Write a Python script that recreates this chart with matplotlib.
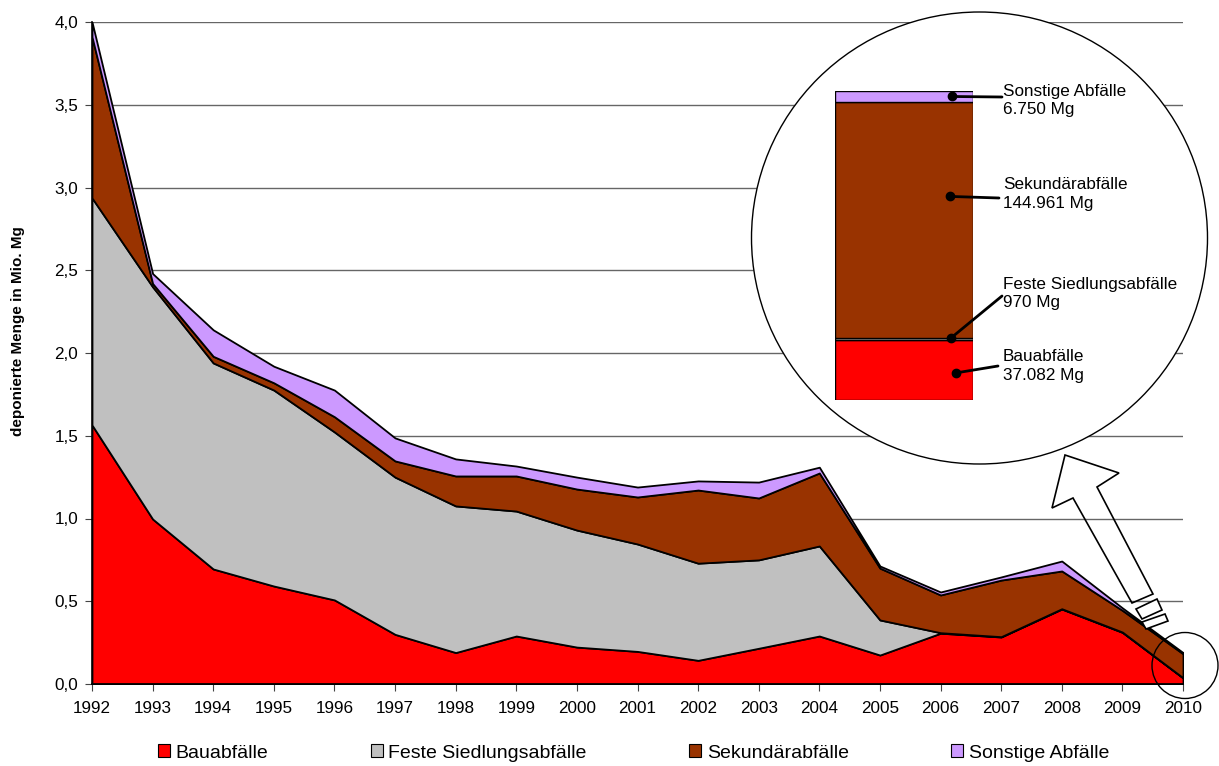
import matplotlib
matplotlib.use("Agg")
import matplotlib.pyplot as plt
from matplotlib.patches import Ellipse, Polygon, Patch

plt.rcParams['font.family'] = ['Liberation Sans', 'DejaVu Sans']

# ---------------- data ----------------
years = list(range(1992, 2011))
bauabfaelle = [1.565, 0.997, 0.695, 0.592, 0.508, 0.300, 0.190, 0.290, 0.223, 0.197,
               0.143, 0.216, 0.290, 0.175, 0.307, 0.284, 0.453, 0.312, 0.037]
feste_siedlung = [1.372, 1.403, 1.245, 1.184, 1.015, 0.950, 0.886, 0.755, 0.707, 0.649,
                  0.587, 0.534, 0.544, 0.212, 0.003, 0.002, 0.002, 0.002, 0.001]
sekundaer = [0.973, 0.020, 0.040, 0.044, 0.092, 0.098, 0.181, 0.212, 0.248, 0.284,
             0.442, 0.374, 0.441, 0.313, 0.228, 0.342, 0.228, 0.131, 0.145]
sonstige = [0.090, 0.060, 0.160, 0.100, 0.161, 0.139, 0.103, 0.060, 0.072, 0.060,
            0.055, 0.096, 0.035, 0.013, 0.018, 0.019, 0.060, 0.015, 0.007]

series_names = ["Bauabfälle", "Feste Siedlungsabfälle", "Sekundärabfälle", "Sonstige Abfälle"]
colors = ["#FF0000", "#C0C0C0", "#993300", "#CC99FF"]

# 2010 detail (Mg)
detail_values = [37082, 970, 144961, 6750]
detail_labels = ["Bauabfälle\n37.082 Mg", "Feste Siedlungsabfälle\n970 Mg",
                 "Sekundärabfälle\n144.961 Mg", "Sonstige Abfälle\n6.750 Mg"]

yticks = [0.0, 0.5, 1.0, 1.5, 2.0, 2.5, 3.0, 3.5, 4.0]
ytick_labels = ["0,0", "0,5", "1,0", "1,5", "2,0", "2,5", "3,0", "3,5", "4,0"]

# ---------------- figure ----------------
W, H = 1219, 766
fig = plt.figure(figsize=(W / 100, H / 100), dpi=100)
ax = fig.add_axes([92 / W, 1 - 684 / H, (1183 - 92) / W, (684 - 22) / H])

ax.stackplot(years, bauabfaelle, feste_siedlung, sekundaer, sonstige,
             colors=colors, edgecolor="black", linewidth=1.3)
ax.set_xlim(1992, 2010)
ax.set_ylim(0, 4.0)
ax.set_xticks(years)
ax.set_xticklabels([str(y) for y in years], fontsize=12.3)
ax.set_yticks(yticks)
ax.set_yticklabels(ytick_labels, fontsize=12.3)
ax.yaxis.grid(True, color="#666666", linewidth=1)
ax.set_axisbelow(True)
for s in ["top", "right"]:
    ax.spines[s].set_visible(False)
ax.spines["left"].set_linewidth(1.2)
ax.spines["bottom"].set_linewidth(1.2)
ax.tick_params(axis="both", direction="out", length=5, color="#444444", pad=5)
ax.tick_params(axis="x", pad=7)

fig.text(18 / W, 1 - 331 / H, "deponierte Menge in Mio. Mg", rotation=90,
         ha="center", va="center", fontsize=11, fontweight="bold")

# legend
handles = [Patch(facecolor=c, edgecolor="black", linewidth=0.8) for c in colors]
fig.legend(handles, series_names, loc="center", bbox_to_anchor=(633.5 / W, 1 - 753 / H),
           ncol=4, frameon=False, fontsize=14, handlelength=0.62, handleheight=0.62,
           handletextpad=0.3, columnspacing=5.25, borderaxespad=0, borderpad=0)

# big magnifier circle
fig.add_artist(Ellipse((979.5 / W, 1 - 238 / H), 2 * 228 / W, 2 * 226 / H,
                       transform=fig.transFigure, facecolor="white",
                       edgecolor="black", linewidth=1, zorder=2))
# small circle around 2010
fig.add_artist(Ellipse((1185 / W, 1 - 665.5 / H), 2 * 33 / W, 2 * 33 / H,
                       transform=fig.transFigure, facecolor="none",
                       edgecolor="black", linewidth=1, zorder=2))

def fp(pts):
    return [(x / W, 1 - y / H) for x, y in pts]

arrow = [(1065, 455), (1119, 473), (1097, 487), (1153, 594), (1132, 603),
         (1073, 498), (1052, 508)]
fig.add_artist(Polygon(fp(arrow), closed=True, transform=fig.transFigure,
                       facecolor="none", edgecolor="black", linewidth=1.2, zorder=2))
rect1 = [(1136, 609), (1157, 599), (1162, 610), (1142, 619)]
rect2 = [(1142, 622), (1165, 614), (1168, 621), (1146, 629)]
for r in (rect1, rect2):
    fig.add_artist(Polygon(fp(r), closed=True, transform=fig.transFigure,
                           facecolor="white", edgecolor="black", linewidth=1.2, zorder=2))

# inset stacked bar for 2010
total = sum(detail_values)
ax_in = fig.add_axes([835 / W, 1 - 400 / H, (973 - 835) / W, (400 - 91) / H])
ax_in.set_zorder(3)
bottom = 0
bottoms = []
for v, c in zip(detail_values, colors):
    ax_in.bar(0.5, v, width=1.0, bottom=bottom, color=c, edgecolor="black", linewidth=1)
    bottoms.append(bottom)
    bottom += v
ax_in.set_xlim(0, 1)
ax_in.set_ylim(0, total)
ax_in.axis("off")

dot_frac_y = [0.45, 1.0, 0.6, 0.5]
dot_x = [0.88, 0.84, 0.83, 0.85]
line_end = [(998, 366), (1002, 296), (999, 198), (1002, 97)]
text_y = [366, 293.5, 194, 100.5]
for i in range(4):
    yv = bottoms[i] + dot_frac_y[i] * detail_values[i]
    ax_in.plot(dot_x[i], yv, "o", color="black", markersize=6, clip_on=False)
    ax_in.annotate("", xy=(dot_x[i], yv), xycoords="data",
                   xytext=(line_end[i][0], H - line_end[i][1]), textcoords="figure pixels",
                   arrowprops=dict(arrowstyle="-", color="black", lw=2,
                                   shrinkA=0, shrinkB=0),
                   annotation_clip=False)
    fig.text(1003 / W, 1 - text_y[i] / H, detail_labels[i], ha="left", va="center",
             fontsize=12.3, linespacing=1.3, zorder=4)

fig.savefig("out.png", dpi=100)
